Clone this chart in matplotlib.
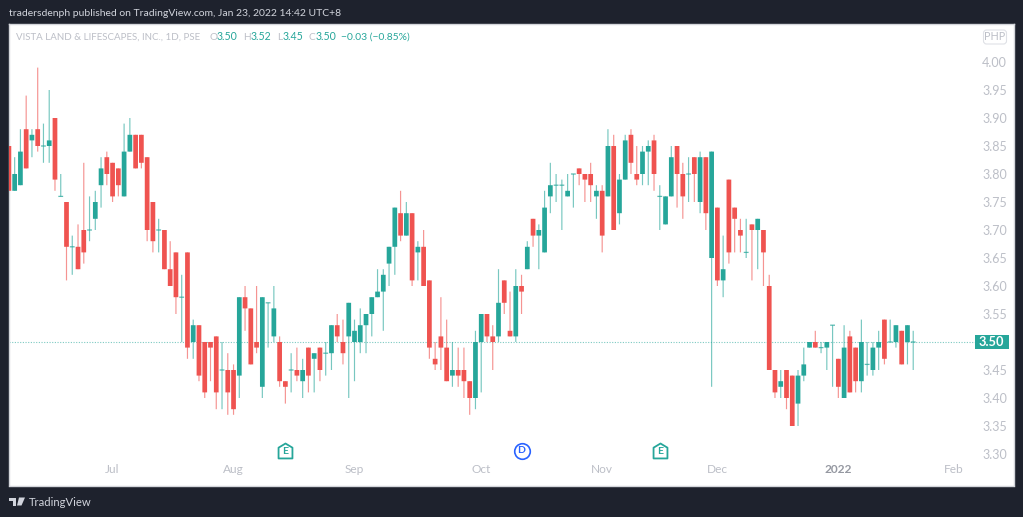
import matplotlib
matplotlib.use("Agg")
import matplotlib.pyplot as plt
from matplotlib.path import Path
from matplotlib.patches import Polygon, Rectangle, FancyBboxPatch

opens = [3.85,3.77,3.78,3.88,3.86,3.88,3.85,3.85,3.90,3.76,3.75,3.67,3.67,3.70,3.70,3.72,3.78,3.83,3.82,3.81,
         3.76,3.84,3.87,3.87,3.83,3.75,3.70,3.70,3.63,3.66,3.58,3.66,3.50,3.53,3.50,3.50,3.51,3.45,3.45,3.45,
         3.44,3.58,3.56,3.50,3.42,3.57,3.51,3.50,3.43,3.45,3.45,3.43,3.49,3.47,3.49,3.48,3.48,3.53,3.50,3.51,
         3.50,3.50,3.53,3.55,3.58,3.59,3.64,3.67,3.73,3.69,3.73,3.66,3.67,3.61,3.47,3.51,3.49,3.44,3.45,3.45,
         3.43,3.40,3.50,3.55,3.51,3.51,3.61,3.52,3.51,3.60,3.63,3.72,3.69,3.66,3.76,3.78,3.78,3.76,3.80,3.81,
         3.80,3.80,3.76,3.77,3.76,3.85,3.73,3.79,3.87,3.80,3.80,3.84,3.86,3.76,3.71,3.76,3.85,3.80,3.80,3.83,
         3.75,3.83,3.65,3.74,3.61,3.79,3.74,3.70,3.66,3.71,3.70,3.70,3.60,3.45,3.42,3.45,3.44,3.39,3.44,3.49,
         3.50,3.49,3.49,3.53,3.47,3.40,3.51,3.49,3.43,3.46,3.45,3.49,3.54,3.50,3.50,3.52,3.50,3.50]
highs = [3.85,3.83,3.88,3.94,3.88,3.99,3.89,3.95,3.90,3.80,3.75,3.69,3.71,3.82,3.76,3.77,3.83,3.84,3.82,3.81,
         3.89,3.90,3.87,3.87,3.83,3.75,3.72,3.70,3.68,3.66,3.62,3.66,3.54,3.53,3.50,3.50,3.51,3.50,3.48,3.46,
         3.58,3.60,3.56,3.60,3.58,3.57,3.60,3.51,3.43,3.48,3.49,3.47,3.49,3.48,3.49,3.50,3.53,3.55,3.54,3.57,
         3.54,3.56,3.55,3.58,3.63,3.63,3.67,3.74,3.77,3.75,3.73,3.68,3.70,3.61,3.50,3.58,3.54,3.50,3.49,3.49,
         3.43,3.52,3.55,3.55,3.53,3.63,3.61,3.59,3.63,3.62,3.68,3.72,3.71,3.77,3.82,3.80,3.79,3.80,3.80,3.81,
         3.80,3.82,3.78,3.78,3.88,3.87,3.80,3.87,3.88,3.85,3.85,3.86,3.87,3.78,3.76,3.85,3.85,3.82,3.83,3.83,
         3.84,3.83,3.84,3.74,3.69,3.79,3.74,3.72,3.72,3.71,3.72,3.70,3.62,3.45,3.45,3.45,3.44,3.45,3.49,3.50,
         3.52,3.50,3.50,3.53,3.47,3.53,3.52,3.49,3.54,3.50,3.50,3.52,3.54,3.54,3.53,3.52,3.53,3.52]
lows = [3.77,3.77,3.78,3.81,3.83,3.84,3.82,3.82,3.77,3.76,3.61,3.62,3.63,3.64,3.68,3.70,3.74,3.78,3.75,3.76,
        3.76,3.84,3.81,3.81,3.68,3.66,3.66,3.63,3.60,3.55,3.50,3.47,3.47,3.43,3.40,3.43,3.38,3.38,3.37,3.37,
        3.40,3.52,3.46,3.48,3.40,3.49,3.50,3.42,3.39,3.41,3.43,3.40,3.41,3.41,3.43,3.44,3.45,3.50,3.46,3.40,
        3.43,3.48,3.48,3.51,3.58,3.52,3.60,3.62,3.68,3.69,3.60,3.61,3.60,3.47,3.45,3.45,3.43,3.42,3.42,3.40,
        3.37,3.38,3.41,3.50,3.45,3.50,3.55,3.51,3.50,3.55,3.63,3.67,3.63,3.66,3.73,3.75,3.70,3.76,3.74,3.78,
        3.75,3.75,3.72,3.66,3.76,3.70,3.71,3.79,3.80,3.78,3.78,3.78,3.77,3.70,3.71,3.76,3.74,3.72,3.75,3.75,
        3.73,3.70,3.42,3.60,3.58,3.64,3.66,3.66,3.65,3.61,3.63,3.60,3.45,3.40,3.40,3.38,3.35,3.35,3.43,3.49,
        3.49,3.48,3.45,3.42,3.40,3.40,3.41,3.41,3.41,3.44,3.44,3.45,3.46,3.50,3.49,3.46,3.46,3.45]
closes = [3.77,3.80,3.84,3.81,3.87,3.85,3.85,3.86,3.79,3.76,3.67,3.67,3.63,3.66,3.70,3.75,3.81,3.80,3.76,3.78,
          3.84,3.87,3.81,3.82,3.70,3.68,3.70,3.63,3.60,3.58,3.58,3.49,3.53,3.44,3.41,3.49,3.41,3.45,3.41,3.38,
          3.58,3.56,3.46,3.49,3.58,3.57,3.56,3.43,3.42,3.45,3.44,3.45,3.44,3.48,3.45,3.48,3.53,3.51,3.48,3.57,
          3.52,3.53,3.55,3.58,3.59,3.62,3.67,3.74,3.69,3.73,3.61,3.67,3.60,3.49,3.46,3.49,3.43,3.45,3.44,3.43,
          3.40,3.50,3.55,3.51,3.50,3.57,3.57,3.51,3.60,3.59,3.67,3.69,3.70,3.74,3.78,3.78,3.78,3.77,3.80,3.80,
          3.79,3.78,3.77,3.69,3.85,3.70,3.79,3.86,3.82,3.79,3.84,3.85,3.80,3.76,3.76,3.83,3.80,3.76,3.80,3.80,
          3.83,3.73,3.84,3.61,3.63,3.66,3.72,3.69,3.66,3.70,3.72,3.66,3.45,3.41,3.43,3.40,3.35,3.44,3.46,3.50,
          3.49,3.49,3.50,3.53,3.42,3.49,3.41,3.43,3.50,3.46,3.49,3.50,3.47,3.50,3.53,3.46,3.53,3.50]

price_ticks = [4.00,3.95,3.90,3.85,3.80,3.75,3.70,3.65,3.60,3.55,3.50,3.45,3.40,3.35,3.30]
month_pos = [18,39,60,82,103,123,144,164]
month_labels = ["Jul","Aug","Sep","Oct","Nov","Dec","2022","Feb"]
last_price = 3.50
event_pos = [48,89,113]
event_labels = ["E","D","E"]

UP, DOWN, DARK = "#26a69a", "#ef5350", "#1e222d"
AXTXT = "#bcbfc7"
FONT = "Lato"
W, H = 1023, 517
plt.rcParams["font.family"] = [FONT, "DejaVu Sans"]

def fx(p): return p / W
def fy(p): return 1 - p / H

fig = plt.figure(figsize=(W / 100, H / 100), dpi=100, facecolor=DARK)
L, R, T, B = 9, 1013.5, 24, 485.5
ax = fig.add_axes([fx(L), fy(B), (R - L) / W, (B - T) / H], facecolor="white")
X0, STEP = 8.9, 5.76
ax.set_xlim((L - X0) / STEP, (R - X0) / STEP)
PPU = 560
ax.set_ylim(4 - (B - 62) / PPU, 4 + (62 - T) / PPU)

for s in ax.spines.values():
    s.set_color("#d4d6db"); s.set_linewidth(1.0)

xs = list(range(len(opens)))
colors = [UP if c >= o else DOWN for o, c in zip(opens, closes)]
wicks = ax.vlines(xs, lows, highs, colors=colors, linewidth=0.85, alpha=0.62, zorder=2)
wicks.set_snap(False)
tops = [max(o, c) for o, c in zip(opens, closes)]
bots = [min(o, c) for o, c in zip(opens, closes)]
bars = ax.bar(xs, [t - b for t, b in zip(tops, bots)], bottom=bots, width=0.82, color=colors,
              edgecolor="none", zorder=3)
for b in bars:
    b.set_snap(False)
dx = [x for x, t, b in zip(xs, tops, bots) if t == b]
dy = [t for t, b in zip(tops, bots) if t == b]
dc = [c for c, t, b in zip(colors, tops, bots) if t == b]
dojis = ax.hlines(dy, [x - 0.42 for x in dx], [x + 0.42 for x in dx], colors=dc, linewidth=0.9, alpha=0.75, zorder=3)
dojis.set_snap(False)

# last price line
ax.plot([ax.get_xlim()[0], (975 - X0) / STEP], [last_price] * 2, color=UP, lw=0.8,
        dashes=(1, 1.4), alpha=0.6, zorder=1)

# axes labels
ax.yaxis.tick_right()
ax.set_yticks(price_ticks)
ax.set_yticklabels(["" if p == last_price else f"{p:.2f}" for p in price_ticks])
ax.tick_params(axis="y", length=0, pad=-22.5, labelsize=9.0, labelcolor=AXTXT)
ax.set_xticks(month_pos)
ax.set_xticklabels(month_labels)
ax.tick_params(axis="x", length=0, pad=-15.5, labelsize=8.6, labelcolor=AXTXT)
for lab, t in zip(ax.get_xticklabels(), month_labels):
    if t == "2022":
        lab.set_fontweight("bold")
        lab.set_color("#9598a1")

# last price tag
px0, px1, py0, py1 = 974.5, 1009, 335, 349
fig.patches.append(Rectangle((fx(px0), fy(py1)), (px1 - px0) / W, (py1 - py0) / H,
                             transform=fig.transFigure, facecolor=UP, edgecolor="none", zorder=5))
fig.text(fx(991.7), fy(342), f"{last_price:.2f}", color="white", fontsize=9.2, fontweight="bold",
         ha="center", va="center", zorder=6)

# PHP badge
fig.patches.append(FancyBboxPatch((fx(983.5), fy(44)), 23 / W, 14 / H,
                                  boxstyle="round,pad=0,rounding_size=0.003", mutation_aspect=2,
                                  transform=fig.transFigure, facecolor="white", edgecolor="#dfe1e6",
                                  linewidth=0.8, zorder=5))
fig.text(fx(995), fy(36.7), "PHP", color=AXTXT, fontsize=7.8, ha="center", va="center", zorder=6)

# event markers
house = Path([(-1, -1), (-1, 0.55), (0, 1.15), (1, 0.55), (1, -1), (-1, -1)],
             closed=True)
event_y = 4 - (451 - 62) / PPU
for p, lab in zip(event_pos, event_labels):
    if lab == "E":
        ax.plot([p], [event_y], marker=house, ms=11.5, mfc="white", mec=UP, mew=1.3, zorder=4)
        ax.text(p, event_y - 0.001, lab, color=UP, fontsize=7.5, fontweight="bold", ha="center", va="center", zorder=5)
    else:
        ax.plot([p], [event_y], marker="o", ms=11.2, mfc="white", mec="#2962ff", mew=1.2, zorder=4)
        ax.text(p, event_y, lab, color="#2962ff", fontsize=7.5, fontweight="bold", ha="center", va="center", zorder=5)

# header text
fig.text(fx(9), fy(13), "tradersdenph published on TradingView.com, Jan 23, 2022 14:42 UTC+8",
         color="#d1d4dc", fontsize=7.45, ha="left", va="center")
LEG_Y = 37
fig.text(fx(16), fy(LEG_Y), "VISTA LAND & LIFESCAPES, INC., 1D, PSE", color=AXTXT, fontsize=7.05, ha="left", va="center")
for xp, t, col, fs in [(210, "O", AXTXT, 7.3), (217, "3.50", UP, 7.6), (243, "H", AXTXT, 7.3), (250.5, "3.52", UP, 7.6),
                       (277, "L", AXTXT, 7.3), (283, "3.45", UP, 7.6), (308.5, "C", AXTXT, 7.3), (315.5, "3.50", UP, 7.6),
                       (341, "\u22120.03 (\u22120.85%)", UP, 7.4)]:
    fig.text(fx(xp), fy(LEG_Y), t, color=col, fontsize=fs, ha="left", va="center")

# footer logo
lx, ly = 9, 497.5
for poly in ([(0, 0), (7, 0), (7, 8), (3.5, 8), (3.5, 3), (0, 3)],
             [(10, 0), (16, 0), (12.5, 8), (8, 8)]):
    fig.patches.append(Polygon([(fx(lx + a), fy(ly + b)) for a, b in poly], closed=True,
                               transform=fig.transFigure, facecolor="#d1d4dc", edgecolor="none"))
fig.text(fx(29), fy(502), "TradingView", color="#d1d4dc", fontsize=8.1, ha="left", va="center")

fig.savefig("out.png", dpi=100, facecolor=DARK)
